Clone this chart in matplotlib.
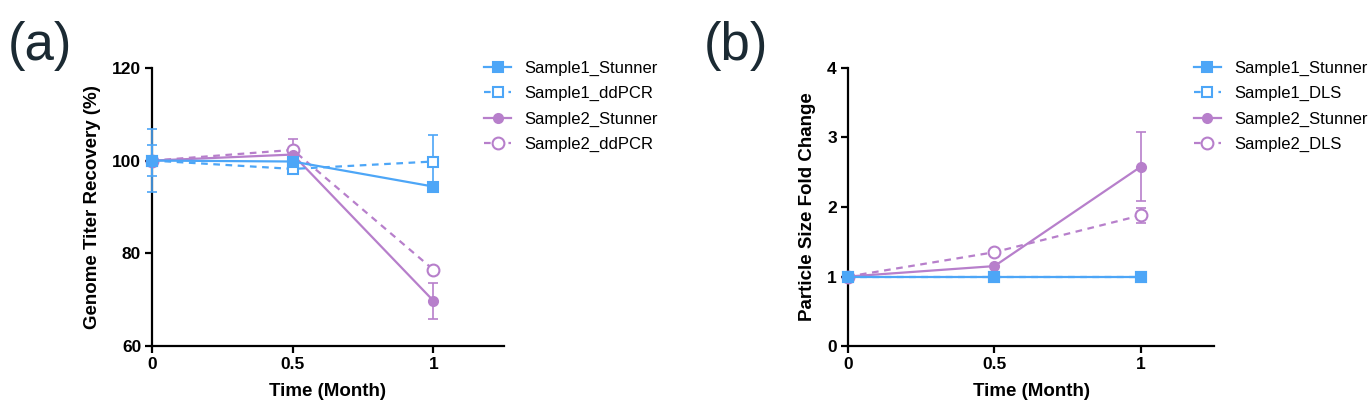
import matplotlib
matplotlib.use("Agg")
import matplotlib.pyplot as plt
import numpy as np

plt.rcParams['font.family'] = ['Liberation Sans', 'DejaVu Sans']

BLUE = '#4da6f7'
PURPLE = '#b77fcb'

# time points (month)
t = [0, 0.5, 1]

# (a) genome titer recovery (%)
s1_stunner = [100, 99.8, 94.4]
s1_stunner_err = [3.4, 0.0, 0.0]
s1_ddpcr = [100, 98.2, 99.8]
s1_ddpcr_err = [6.7, 0.6, 5.7]
s2_stunner = [100, 101.3, 69.8]
s2_stunner_err = [0.0, 0.0, 3.9]
s2_ddpcr = [100, 102.3, 76.5]
s2_ddpcr_err = [0.0, 2.3, 0.0]

# (b) particle size fold change
b_s1_stunner = [1.0, 1.0, 1.0]
b_s1_stunner_err = [0.0, 0.0, 0.0]
b_s1_dls = [1.0, 1.0, 1.0]
b_s1_dls_err = [0.0, 0.0, 0.0]
b_s2_stunner = [1.0, 1.15, 2.58]
b_s2_stunner_err = [0.0, 0.0, 0.5]
b_s2_dls = [1.0, 1.35, 1.88]
b_s2_dls_err = [0.0, 0.0, 0.11]

labels_a = ['Sample1_Stunner', 'Sample1_ddPCR', 'Sample2_Stunner', 'Sample2_ddPCR']
labels_b = ['Sample1_Stunner', 'Sample1_DLS', 'Sample2_Stunner', 'Sample2_DLS']

styles = [
    dict(color=BLUE, ls='-', marker='s', mfc=BLUE, ms=7.5, z=6),
    dict(color=BLUE, ls='--', marker='s', mfc='white', ms=7.5, z=5),
    dict(color=PURPLE, ls='-', marker='o', mfc=PURPLE, ms=6.5, z=4),
    dict(color=PURPLE, ls='--', marker='o', mfc='white', ms=8.5, z=3),
]


def draw(ax, series, labels):
    handles = []
    for (y, e), lab, st in zip(series, labels, styles):
        y = np.array(y)
        e = np.array(e)
        m = e > 0
        if m.any():
            ax.errorbar(np.array(t)[m], y[m], yerr=e[m], fmt='none', ecolor=st['color'],
                        elinewidth=1.2, capsize=3.5, capthick=1.2, zorder=st['z'] - 0.5,
                        clip_on=False)
        ln, = ax.plot(t, y, color=st['color'], lw=1.6, linestyle=st['ls'],
                      marker=st['marker'], mfc=st['mfc'], mec=st['color'], mew=1.5,
                      ms=st['ms'], zorder=st['z'], clip_on=False)
        if st['ls'] == '--':
            ln.set_dashes((3, 2.5))
        handles.append(ln)
    ax.spines['top'].set_visible(False)
    ax.spines['right'].set_visible(False)
    for sp in ('left', 'bottom'):
        ax.spines[sp].set_linewidth(1.6)
    ax.tick_params(width=1.6, length=5, labelsize=12.5, pad=3)
    ax.set_xlim(0, 1.25)
    ax.set_xticks([0, 0.5, 1])
    ax.set_xticklabels(['0', '0.5', '1'], fontweight='bold')
    ax.set_xlabel('Time (Month)', fontsize=13.5, fontweight='bold', labelpad=8)
    ax.legend(handles, labels, loc='upper left', bbox_to_anchor=(0.945, 1.025), frameon=False,
              borderaxespad=0, borderpad=0, fontsize=12, handlelength=1.6,
              handletextpad=0.8, labelspacing=0.62)


fig = plt.figure(figsize=(13.72, 4.16), dpi=100)
ax1 = fig.add_axes([0.111, 0.168, 0.256, 0.669])
ax2 = fig.add_axes([0.618, 0.168, 0.267, 0.669])

draw(ax1, [(s1_stunner, s1_stunner_err), (s1_ddpcr, s1_ddpcr_err),
           (s2_stunner, s2_stunner_err), (s2_ddpcr, s2_ddpcr_err)], labels_a)
ax1.set_ylim(60, 120)
ax1.set_yticks([60, 80, 100, 120])
ax1.set_yticklabels(['60', '80', '100', '120'], fontweight='bold')
ax1.set_ylabel('Genome Titer Recovery (%)', fontsize=13.5, fontweight='bold', labelpad=8)

draw(ax2, [(b_s1_stunner, b_s1_stunner_err), (b_s1_dls, b_s1_dls_err),
           (b_s2_stunner, b_s2_stunner_err), (b_s2_dls, b_s2_dls_err)], labels_b)
ax2.set_ylim(0, 4)
ax2.set_yticks([0, 1, 2, 3, 4])
ax2.set_yticklabels(['0', '1', '2', '3', '4'], fontweight='bold')
ax2.set_ylabel('Particle Size Fold Change', fontsize=13.5, fontweight='bold', labelpad=8)

fig.text(0.006, 0.89, '(a)', fontsize=38, color='#1b2a33', va='center')
fig.text(0.513, 0.89, '(b)', fontsize=38, color='#1b2a33', va='center')

fig.savefig('out.png', dpi=100)
